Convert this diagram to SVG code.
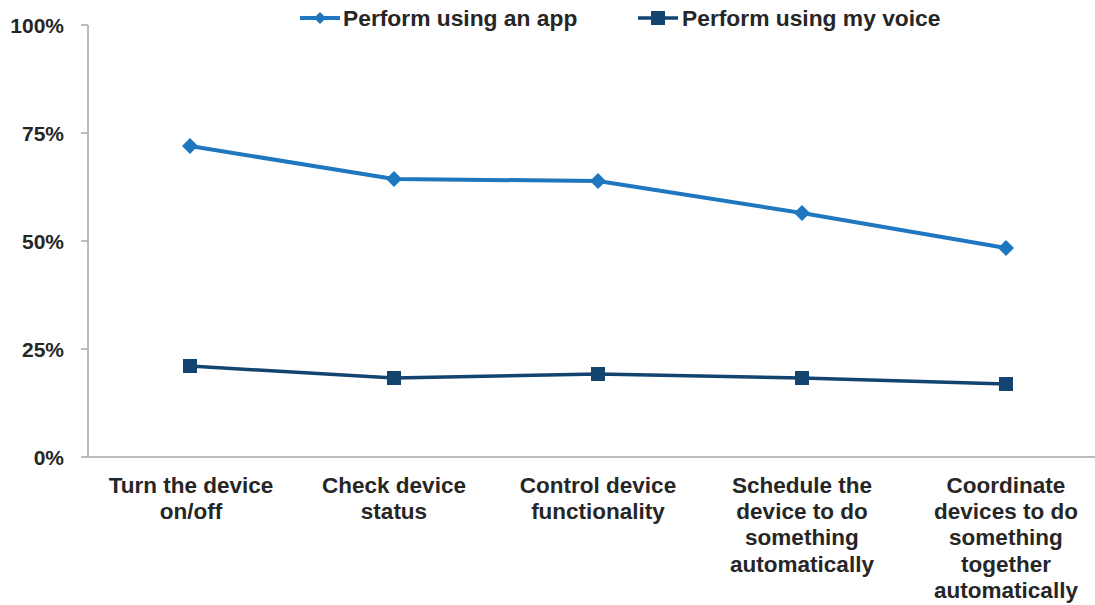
<svg xmlns="http://www.w3.org/2000/svg" width="1095" height="605" viewBox="0 0 1095 605">
<style>
.t{font-family:"Liberation Sans",Arial,sans-serif;font-weight:bold;fill:#262626}
.ax{font-size:21px;text-anchor:end}
.cat{font-size:22.5px;text-anchor:middle}
.leg{font-size:22.8px}
.axis{stroke:#A6A6A6;stroke-width:1.5;fill:none}
.app{stroke:#1F77C0;stroke-width:4;fill:none;stroke-linejoin:round}
.voice{stroke:#12446F;stroke-width:3.5;fill:none;stroke-linejoin:round}
</style>
<defs>
<path id="dia" d="M0,-8 L8,0 L0,8 L-8,0 Z" fill="#1F77C0"/>
<rect id="sq" x="-7" y="-7" width="14" height="14" fill="#12446F"/>
</defs>
<rect width="1095" height="605" fill="#FFFFFF"/>
<g id="axes">
<path class="axis" d="M88,25 V457 H1095 M81,25 H88 M81,133 H88 M81,241 H88 M81,349 H88 M81,457 H88"/>
<text class="t ax" x="64" y="33">100%</text>
<text class="t ax" x="64" y="141">75%</text>
<text class="t ax" x="64" y="249">50%</text>
<text class="t ax" x="64" y="357">25%</text>
<text class="t ax" x="64" y="465">0%</text>
</g>
<g id="connectors">
<polyline class="app" points="190,146 394,179 598,181 802,213 1006,248"/>
<polyline class="voice" points="190,366 394,378 598,374 802,378 1006,384"/>
</g>
<g id="markers-app">
<use href="#dia" x="190" y="146"/>
<use href="#dia" x="394" y="179"/>
<use href="#dia" x="598" y="181"/>
<use href="#dia" x="802" y="213"/>
<use href="#dia" x="1006" y="248"/>
</g>
<g id="markers-voice">
<use href="#sq" x="190" y="366"/>
<use href="#sq" x="394" y="378"/>
<use href="#sq" x="598" y="374"/>
<use href="#sq" x="802" y="378"/>
<use href="#sq" x="1006" y="384"/>
</g>
<g id="categories">
<text class="t cat" x="191" y="493">Turn the device<tspan x="191" y="519">on/off</tspan></text>
<text class="t cat" x="394" y="493">Check device<tspan x="394" y="519">status</tspan></text>
<text class="t cat" x="598" y="493">Control device<tspan x="598" y="519">functionality</tspan></text>
<text class="t cat" x="802" y="493">Schedule the<tspan x="802" y="519">device to do</tspan><tspan x="802" y="545">something</tspan><tspan x="802" y="572">automatically</tspan></text>
<text class="t cat" x="1006" y="493">Coordinate<tspan x="1006" y="519">devices to do</tspan><tspan x="1006" y="545">something</tspan><tspan x="1006" y="572">together</tspan><tspan x="1006" y="598">automatically</tspan></text>
</g>
<g id="legend">
<line class="app" x1="300" y1="18" x2="340" y2="18"/>
<path d="M0,-6 L6,0 L0,6 L-6,0 Z" fill="#1F77C0" transform="translate(320,18)"/>
<text class="t leg" x="343" y="26">Perform using an app</text>
<line class="voice" x1="638" y1="18" x2="678" y2="18"/>
<rect x="651" y="11" width="14" height="14" fill="#12446F"/>
<text class="t leg" x="682" y="26">Perform using my voice</text>
</g>
</svg>
